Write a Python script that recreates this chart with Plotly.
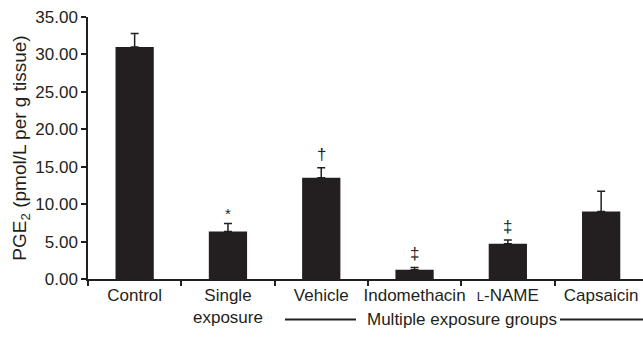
import plotly.graph_objects as go

categories = ["Control", "Single<br>exposure", "Vehicle", "Indomethacin",
              "<span style='font-size:13px'>L</span>-NAME", "Capsaicin"]
values = [31.0, 6.34, 13.54, 1.24, 4.70, 9.01]
errors = [1.8, 1.07, 1.33, 0.31, 0.50, 2.72]
markers = ["", "*", "†", "‡", "‡", ""]
y_ticks = [0, 5, 10, 15, 20, 25, 30, 35]

FONT = "Liberation Sans, Arial, sans-serif"

fig = go.Figure()
fig.add_trace(go.Bar(
    x=list(range(len(categories))), y=values,
    marker=dict(color="#231f20", line=dict(width=0)),
    width=0.41,
    error_y=dict(type="data", array=errors, arrayminus=[0]*len(errors),
                 symmetric=False, color="#231f20", thickness=1.5, width=4),
))

for i, (m, v, e) in enumerate(zip(markers, values, errors)):
    if m:
        fig.add_annotation(x=i, y=v + e, text=m, showarrow=False,
                           yanchor="bottom", yshift=0 if m == "*" else 2,
                           font=dict(size=17 if m != "*" else 15, color="#231f20", family=FONT))

fig.add_annotation(xref="paper", yref="paper", x=(462-88)/555, y=(279.3-320)/262.6,
                   text="Multiple exposure groups", showarrow=False,
                   xanchor="center", yanchor="middle",
                   font=dict(size=17, color="#231f20", family=FONT))
for x0, x1 in [(285, 356), (560, 643)]:
    fig.add_shape(type="line", xref="paper", yref="paper",
                  x0=(x0-88)/555, x1=(x1-88)/555,
                  y0=(279.3-320)/262.6, y1=(279.3-320)/262.6,
                  line=dict(color="#231f20", width=2))

fig.update_layout(
    width=643, height=346,
    margin=dict(l=88, r=0, t=17, b=67),
    paper_bgcolor="white", plot_bgcolor="white",
    showlegend=False, bargap=0.59,
    font=dict(family=FONT, size=17, color="#231f20"),
)
fig.update_xaxes(
    range=[-0.5, -0.5 + 555/93.3],
    tickmode="array", tickvals=list(range(len(categories))), ticktext=categories,
    showline=True, linecolor="#231f20", linewidth=1.5,
    ticks="", showgrid=False, zeroline=False,
    tickfont=dict(size=17),
)
fig.update_xaxes(minor=dict(tickvals=[i + 0.5 for i in range(-1, 6)], ticks="outside",
                             ticklen=5, tickcolor="#231f20", tickwidth=1.5, showgrid=False))
fig.update_yaxes(
    range=[0, 35], tickvals=y_ticks, ticktext=[f"{t:.2f}" for t in y_ticks],
    showline=True, linecolor="#231f20", linewidth=1.5,
    ticks="outside", ticklen=5, tickcolor="#231f20", tickwidth=1.5,
    showgrid=False, zeroline=False, tickfont=dict(size=17),
    title=dict(text="PGE<sub>2</sub> (pmol/L per g tissue)", font=dict(size=19), standoff=4),
)

fig.write_html("out.html")
